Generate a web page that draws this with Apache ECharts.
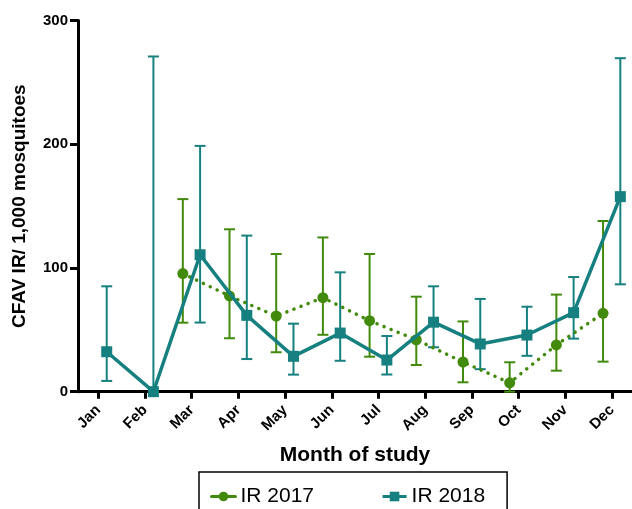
<!DOCTYPE html>
<html>
<head>
<meta charset="utf-8">
<script src="https://cdn.jsdelivr.net/npm/echarts@6/dist/echarts.min.js"></script>
<style>
html,body{margin:0;padding:0;background:#fff;}
#chart{width:632px;height:509px;}
</style>
</head>
<body>
<div id="chart"></div>
<script>
// ---- data ----
var monthLabels = ['Jan','Feb','Mar','Apr','May','Jun','Jul','Aug','Sep','Oct','Nov','Dec'];
var ir2017Mean = [null, null, 95.5, 77.4, 61.2, 76.0, 57.4, 42.0, 24.0, 7.2, 37.8, 63.4];
var ir2017Low  = [null, null, 55.8, 43.2, 31.9, 46.0, 28.3, 21.6, 7.6, 0, 17.0, 24.3];
var ir2017High = [null, null, 155.7, 131.3, 111.3, 124.7, 111.3, 76.8, 56.8, 23.8, 78.5, 138.0];
var ir2018Mean = [32.3, 0, 110.7, 61.7, 28.6, 47.4, 25.6, 56.2, 38.6, 45.8, 63.9, 157.7];
var ir2018Low  = [8.7, 0, 55.9, 26.4, 13.8, 25.0, 13.9, 35.9, 18.2, 29.0, 42.9, 86.8];
var ir2018High = [85.2, 271.0, 198.7, 126.2, 55.0, 96.5, 45.0, 85.2, 75.0, 68.7, 92.7, 269.6];
var yTicks = [0, 100, 200, 300];

// ---- styling / layout ----
var GREEN = '#428a0c';
var TEAL = '#15807f';
var OFF2017 = -0.19, OFF2018 = 0.18;
var FONT = 'Liberation Sans, Arial, sans-serif';

function pts(mean, off) {
  var out = [];
  for (var i = 0; i < mean.length; i++) if (mean[i] != null) out.push([i + 1 + off, mean[i]]);
  return out;
}
function errs(mean, lo, hi, off) {
  var out = [];
  for (var i = 0; i < mean.length; i++) if (mean[i] != null) out.push([i + 1 + off, lo[i], hi[i]]);
  return out;
}
function errRender(color) {
  return function (params, api) {
    var x = api.value(0);
    var pLo = api.coord([x, api.value(1)]);
    var pHi = api.coord([x, api.value(2)]);
    var hw = 5.5;
    var st = { stroke: color, lineWidth: 2, fill: null };
    return {
      type: 'group',
      children: [
        { type: 'line', shape: { x1: pLo[0], y1: pLo[1], x2: pHi[0], y2: pHi[1] }, style: st },
        { type: 'line', shape: { x1: pHi[0] - hw, y1: pHi[1], x2: pHi[0] + hw, y2: pHi[1] }, style: st },
        { type: 'line', shape: { x1: pLo[0] - hw, y1: pLo[1], x2: pLo[0] + hw, y2: pLo[1] }, style: st }
      ]
    };
  };
}
var monthIdx = monthLabels.map(function (m, i) { return i + 1; });

var chart = echarts.init(document.getElementById('chart'), null, { renderer: 'canvas' });
chart.setOption({
  animation: false,
  backgroundColor: '#fff',
  textStyle: { fontFamily: FONT },
  grid: { left: 78, top: 20.6, right: 0, bottom: 117.3, containLabel: false },
  xAxis: {
    type: 'value',
    min: 0.565, max: 12.43,
    name: 'Month of study',
    nameLocation: 'middle',
    nameGap: 53,
    nameTextStyle: { fontFamily: FONT, fontWeight: 'bold', fontSize: 21, color: '#000' },
    splitLine: { show: false },
    axisLine: { show: true, onZero: false, lineStyle: { color: '#000', width: 3 } },
    axisTick: { show: true, length: 7, lineStyle: { color: '#000', width: 3 }, customValues: monthIdx },
    axisLabel: {
      customValues: monthIdx,
      rotate: 45, margin: 16,
      fontFamily: FONT, fontWeight: 'bold', fontSize: 15, color: '#000',
      formatter: function (v) { return monthLabels[Math.round(v) - 1] || ''; }
    }
  },
  yAxis: {
    type: 'value',
    min: 0, max: 300, interval: 100,
    name: 'CFAV IR/ 1,000 mosquitoes',
    nameLocation: 'middle',
    nameGap: 49,
    nameTextStyle: { fontFamily: FONT, fontWeight: 'bold', fontSize: 19, color: '#000' },
    splitLine: { show: false },
    axisLine: { show: true, lineStyle: { color: '#000', width: 3 } },
    axisTick: { show: true, length: 8, lineStyle: { color: '#000', width: 3 } },
    axisLabel: {
      customValues: yTicks,
      margin: 10, fontFamily: FONT, fontWeight: 'bold', fontSize: 15, color: '#000'
    }
  },
  legend: {
    left: 199, top: 472,
    padding: [14, 22, 14, 11],
    borderColor: '#000', borderWidth: 1.5,
    itemWidth: 24, itemHeight: 12, itemGap: 67,
    textStyle: { fontFamily: FONT, fontSize: 21, color: '#000' },
    data: [
      { name: 'IR 2017', lineStyle: { type: 'solid', width: 3 } },
      { name: 'IR 2018', lineStyle: { width: 3 } }
    ]
  },
  series: [
    {
      type: 'custom', name: 'err2017', renderItem: errRender(GREEN),
      data: errs(ir2017Mean, ir2017Low, ir2017High, OFF2017),
      encode: { x: 0, y: [1, 2] }, z: 1, silent: true, clip: false
    },
    {
      type: 'custom', name: 'err2018', renderItem: errRender(TEAL),
      data: errs(ir2018Mean, ir2018Low, ir2018High, OFF2018),
      encode: { x: 0, y: [1, 2] }, z: 1, silent: true, clip: false
    },
    {
      type: 'line', name: 'IR 2017',
      data: pts(ir2017Mean, OFF2017),
      symbol: 'circle', symbolSize: 11,
      itemStyle: { color: GREEN },
      lineStyle: { color: GREEN, width: 3.5, type: [0.1, 7.5], cap: 'round' },
      z: 3, clip: false
    },
    {
      type: 'line', name: 'IR 2018',
      data: pts(ir2018Mean, OFF2018),
      symbol: 'rect', symbolSize: 11,
      itemStyle: { color: TEAL },
      lineStyle: { color: TEAL, width: 3.5 },
      z: 4, clip: false
    }
  ]
});
</script>
</body>
</html>
